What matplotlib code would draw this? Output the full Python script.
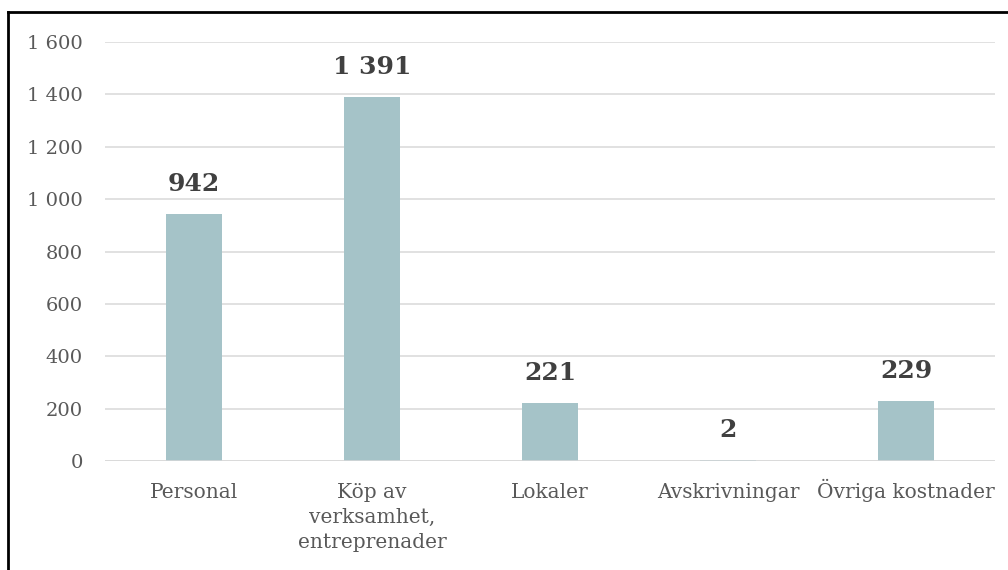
import matplotlib.pyplot as plt
from matplotlib.lines import Line2D
from matplotlib.ticker import FuncFormatter, MultipleLocator
from matplotlib.transforms import ScaledTranslation

kategorier = ['Personal', 'Köp av\nverksamhet,\nentreprenader', 'Lokaler',
              'Avskrivningar', 'Övriga kostnader']
varden = [942, 1391, 221, 2, 229]

plt.rcParams['font.family'] = ['DejaVu Serif']

def tusental(v, pos=None):
    return f'{v:,.0f}'.replace(',', ' ')

fig = plt.figure(figsize=(10.08, 5.70), dpi=100)
ax = fig.add_axes([0.1042, 0.1912, 0.8829, 0.7351])

x = range(len(kategorier))
ax.bar(x, varden, width=0.315, color='#A5C3C8', zorder=3)

for xi, v in zip(x, varden):
    ax.annotate(tusental(v), (xi, v), xytext=(0, 13), textcoords='offset points',
                ha='center', va='bottom', fontsize=18, fontweight='bold', color='#404040')

ax.set_xlim(-0.5, len(kategorier) - 0.5)
ax.set_ylim(0, 1600)
ax.yaxis.set_major_locator(MultipleLocator(200))
ax.yaxis.set_major_formatter(FuncFormatter(tusental))
ax.grid(axis='y', color='#D9D9D9', linewidth=1.1, zorder=0)
for s in ax.spines.values():
    s.set_visible(False)
ax.axhline(0, color='#D9D9D9', linewidth=1.1, zorder=4)

ax.set_xticks(list(x))
ax.set_xticklabels(kategorier, linespacing=1.4)
ax.tick_params(axis='both', length=0, labelcolor='#595959')
ax.tick_params(axis='y', pad=16, labelsize=14)
ax.tick_params(axis='x', pad=15.5, labelsize=14.5)
for lbl in ax.get_xticklabels():
    lbl.set_va('top')
    if lbl.get_text().startswith('Ö'):
        # Ö är högre än övriga versaler, lyft etiketten så baslinjerna möts
        lbl.set_transform(lbl.get_transform() + ScaledTranslation(0, 3 / 72, fig.dpi_scale_trans))

# ram runt diagrammet (bara övre och vänstra kanten syns)
fig.add_artist(Line2D([8 / 1008, 1.0], [1 - 12 / 570, 1 - 12 / 570], color='black', linewidth=2))
fig.add_artist(Line2D([8 / 1008, 8 / 1008], [0, 1 - 12 / 570], color='black', linewidth=2))

fig.savefig('out.png', dpi=100)
